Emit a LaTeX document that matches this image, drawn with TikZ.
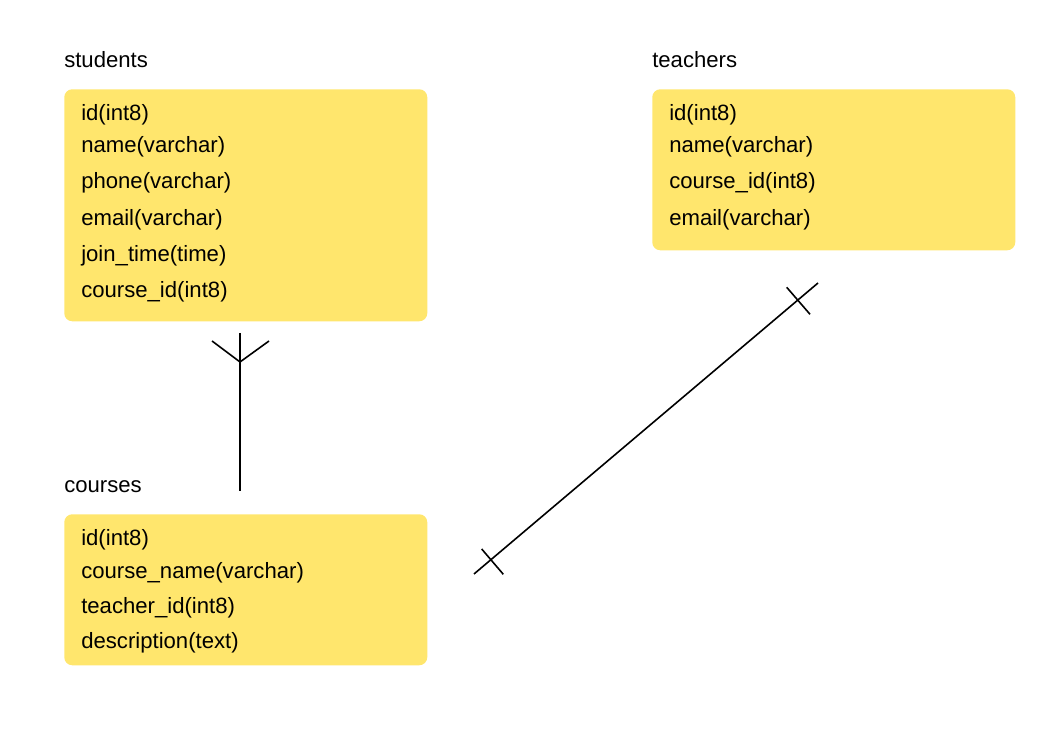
\documentclass[tikz,border=0pt]{standalone}
\usepackage{fontspec}
\usepackage{xcolor}
\setmainfont{Liberation Sans}
\definecolor{tableyellow}{HTML}{FFE66D}

\tikzset{
  tablebox/.style={fill=tableyellow, rounded corners=6pt, inner sep=0pt,
    anchor=north west, minimum width=272.25pt},
  rowtext/.style={anchor=base west, inner sep=0pt,
    font=\fontsize{16.6}{19}\selectfont},
  tabletitle/.style={rowtext},
  relline/.style={line width=1.2pt, black}
}

\begin{document}
\begin{tikzpicture}[x=0.75pt,y=-0.75pt]
  \useasboundingbox (0,0) rectangle (1060,737);

  % tables
  \node[tablebox, minimum height=174pt] (students) at (64,89) {};
  \node[tablebox, minimum height=120.75pt] (teachers) at (652,89) {};
  \node[tablebox, minimum height=113.25pt] (courses) at (64,514) {};

  % table titles
  \node[tabletitle] (studentstitle) at (64,68) {students};
  \node[tabletitle] (teacherstitle) at (652,68) {teachers};
  \node[tabletitle] (coursestitle) at (64,493) {courses};

  % columns
  \foreach \y/\txt [count=\i] in {121/id(int8), 153/name(varchar), 189/phone(varchar),
      226/email(varchar), 262/join\_time(time), 298/course\_id(int8)}
    \node[rowtext] (stu\i) at (81,\y) {\txt};
  \foreach \y/\txt [count=\i] in {121/id(int8), 153/name(varchar),
      189/course\_id(int8), 226/email(varchar)}
    \node[rowtext] (tea\i) at (669,\y) {\txt};
  \foreach \y/\txt [count=\i] in {546/id(int8), 578/course\_name(varchar),
      613/teacher\_id(int8), 648/description(text)}
    \node[rowtext] (cou\i) at (81,\y) {\txt};

  % students -- courses (many to one)
  \coordinate (sc1) at (240,333);
  \coordinate (sc2) at (240,491);
  \coordinate (scfoot) at (240,362);
  \coordinate (scleft) at (212,341);
  \coordinate (scright) at (269,341);
  \draw[relline] (sc1) -- (sc2);
  \draw[relline] (scleft) -- (scfoot) -- (scright);

  % courses -- teachers (one to one)
  \coordinate (ct1) at (474,574);
  \coordinate (ct2) at (818,283);
  \draw[relline] (ct1) -- (ct2);
  \draw[relline] (481.7,549) -- (503.3,574.3);
  \draw[relline] (786.7,287.3) -- (810,314.3);
\end{tikzpicture}
\end{document}
